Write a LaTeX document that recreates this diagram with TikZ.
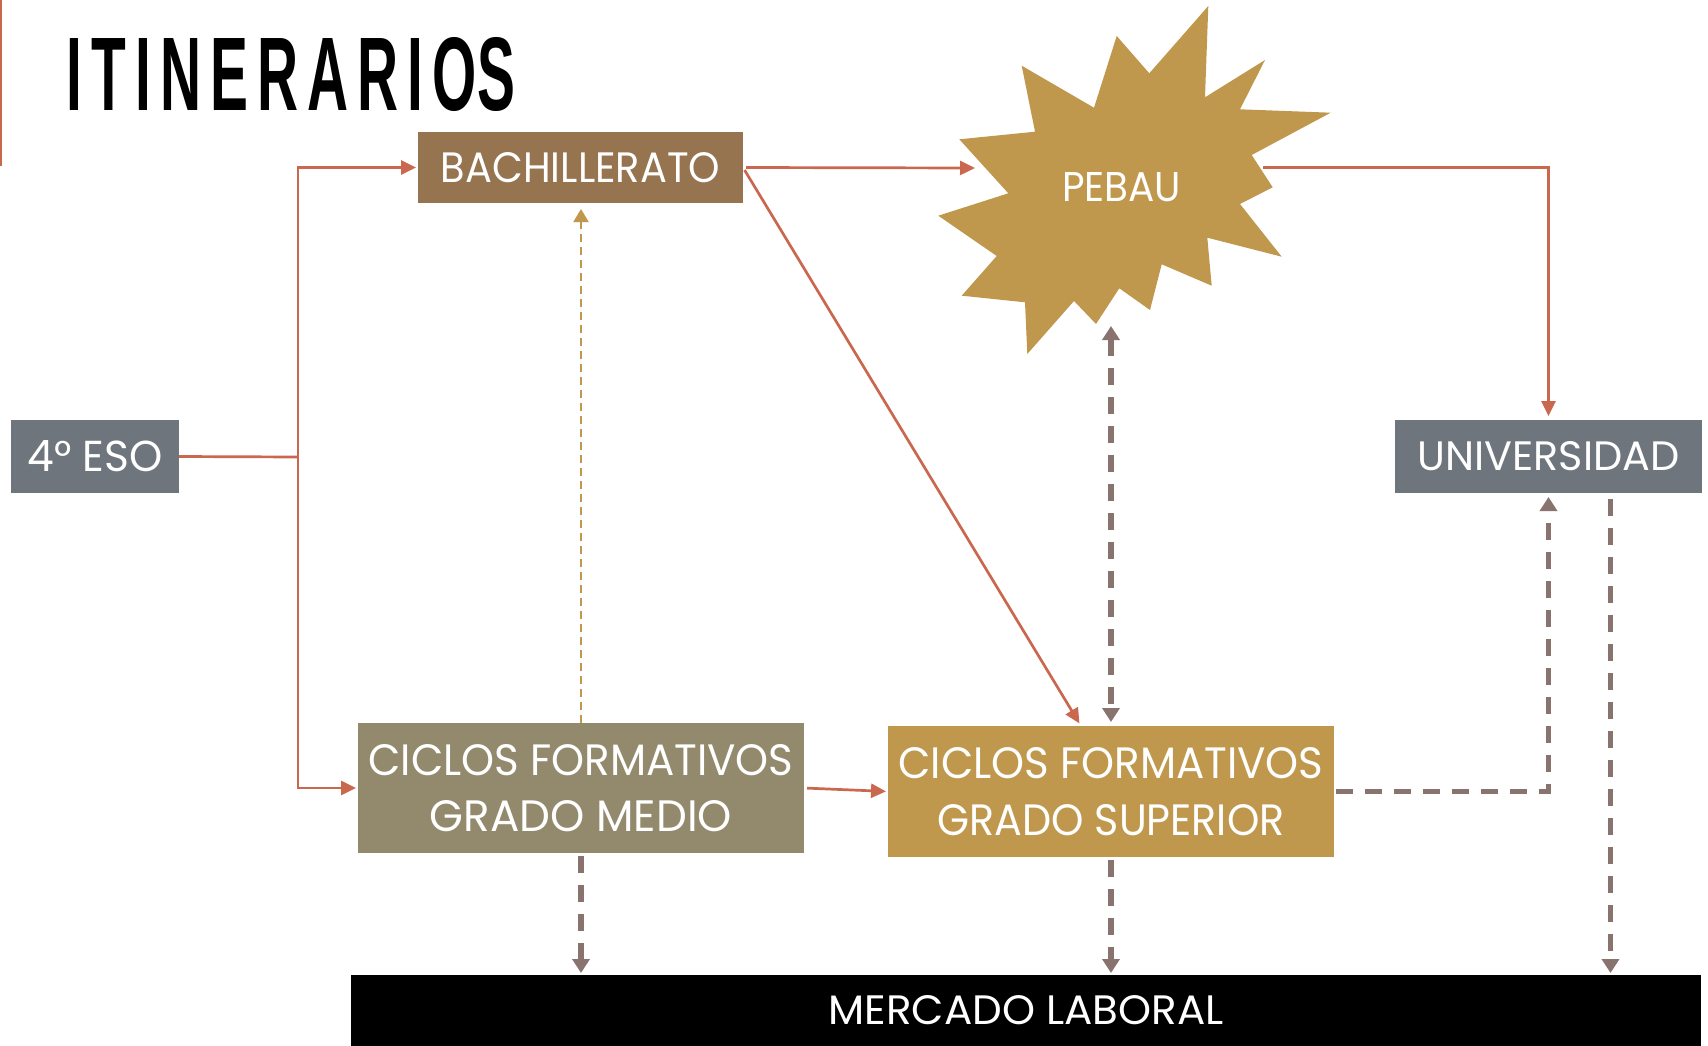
\documentclass[tikz,border=0pt]{standalone}
\usepackage{fontspec}
\setmainfont{Poppins}
\newfontfamily\titlefont{Liberation Sans}[LetterSpace=16]
\usepackage{graphicx}
\usetikzlibrary{arrows.meta}
\definecolor{redc}{RGB}{201,104,78}
\definecolor{brownc}{RGB}{150,116,80}
\definecolor{goldc}{RGB}{192,152,77}
\definecolor{olivec}{RGB}{147,138,110}
\definecolor{grayc}{RGB}{110,117,124}
\definecolor{dashc}{RGB}{137,115,111}
\newcommand\fitline[3]{\resizebox{#1pt}{#2pt}{#3}}
\newcommand\twolines[2]{\vbox{\offinterlineskip\halign{\hfil##\hfil\cr#1\cr\noalign{\vskip 25pt}#2\cr}}}
\begin{document}
\begin{tikzpicture}[x=1pt,y=-1pt,
  box/.style={inner sep=0pt, outer sep=0pt, text=white, anchor=center},
  rline/.style={draw=redc, line width=2.7pt},
  rarrow/.style={rline, -{Triangle[length=15pt,width=14pt]}},
  gline/.style={draw=dashc, line width=5.5pt, dash pattern=on 17pt off 12pt},
  garrow/.style={gline, -{Triangle[length=14pt,width=17pt]}},
  yarrow/.style={draw=goldc, line width=2.2pt, dash pattern=on 8pt off 5pt, -{Triangle[length=13pt,width=15pt]}}]
\useasboundingbox (0,0) rectangle (1708,1046);

% left accent line
\draw[redc, line width=2.5pt] (1,0) -- (1,166);

% title
\node[inner sep=0pt, anchor=center] (title) at (291,74.5)
  {\fitline{448}{73}{\titlefont\bfseries ITINERARIO{\addfontfeature{LetterSpace=0}S}}};

% PEBAU starburst
\fill[goldc] (1208.3,6) -- (1205,97.3) -- (1265,60) -- (1240,109.3) -- (1330.7,112.7)
  -- (1251.7,155) -- (1272.7,187.3) -- (1240,204) -- (1281.7,256.7) -- (1207.3,237.7)
  -- (1211.7,285.7) -- (1161.7,264.3) -- (1150,310) -- (1119.3,288.3) -- (1096,324)
  -- (1074,301) -- (1027.3,354) -- (1025,302.3) -- (961.7,295.7) -- (996.7,256)
  -- (938.3,215.7) -- (1008.3,193.3) -- (959.3,139.3) -- (1035,131.7) -- (1021.7,65.7)
  -- (1094,107.7) -- (1116.7,36) -- (1149.3,73.3) -- cycle;
\node[box] (pebau) at (1121.5,187.5) {\fitline{119}{29}{PEBAU}};
\coordinate (starW) at (975,168);
\coordinate (starE) at (1263,167.5);
\coordinate (starB) at (1111,326);

% boxes
\node[box, fill=grayc, minimum width=168pt, minimum height=73pt] (eso) at (95,456.5)
  {\fitline{135}{31}{4° ESO}};
\node[box, fill=brownc, minimum width=325pt, minimum height=71pt] (bach) at (580.5,167.5)
  {\fitline{279}{30}{BACHILLERATO}};
\node[box, fill=grayc, minimum width=307pt, minimum height=73pt] (uni) at (1548.5,456.5)
  {\fitline{262}{29}{UNIVERSIDAD}};
\node[box, fill=olivec, minimum width=446pt, minimum height=130pt] (gm) at (581,788)
  {\twolines{\fitline{425}{31}{CICLOS FORMATIVOS}}{\fitline{302}{31}{GRADO MEDIO}}};
\node[box, fill=goldc, minimum width=446pt, minimum height=131pt] (gs) at (1111,791.5)
  {\twolines{\fitline{425}{31}{CICLOS FORMATIVOS}}{\fitline{347}{31}{GRADO SUPERIOR}}};
\node[box, fill=black, minimum width=1350pt, minimum height=71pt] (bar) at (1026,1010.5)
  {\raisebox{-4pt}{\fitline{395}{29}{MERCADO LABORAL}}};

% red connectors
\coordinate (j) at (298,457);
\draw[rline] (eso.east) -- (j);
\draw[rarrow, shorten >=2pt] (j) |- (bach.west);
\draw[rarrow, shorten >=2pt] (j) |- (gm.west);
\draw[rarrow, shorten <=3pt] (bach.east) -- (starW);
\draw[rarrow, shorten <=3pt, shorten >=3pt] (bach.east) -- (gs.north -| 1081,0);
\draw[rarrow, shorten >=4pt] (starE) -| (uni.north);
\draw[rarrow, shorten <=3pt, shorten >=2pt] (gm.east) -- (gs.west);

% gold dashed connector
\draw[yarrow, shorten >=6pt] (gm.north) -- (gm.north |- bach.south);

% grey dashed connectors
\draw[garrow, shorten <=3pt, shorten >=2pt] (gm.south) -- (gm.south |- bar.north);
\draw[garrow, shorten <=3pt, shorten >=2pt] (gs.south) -- (gs.south |- bar.north);
\draw[gline, {Triangle[length=14pt,width=17pt]}-{Triangle[length=14pt,width=17pt]}, shorten >=4pt]
  (starB) -- (gs.north);
\draw[garrow, shorten <=2pt, shorten >=4pt] (gs.east) -| (uni.south);
\draw[garrow, shorten <=6pt, shorten >=2pt] ([xshift=62pt]uni.south) -- ([xshift=62pt]uni.south |- bar.north);
\end{tikzpicture}
\end{document}
